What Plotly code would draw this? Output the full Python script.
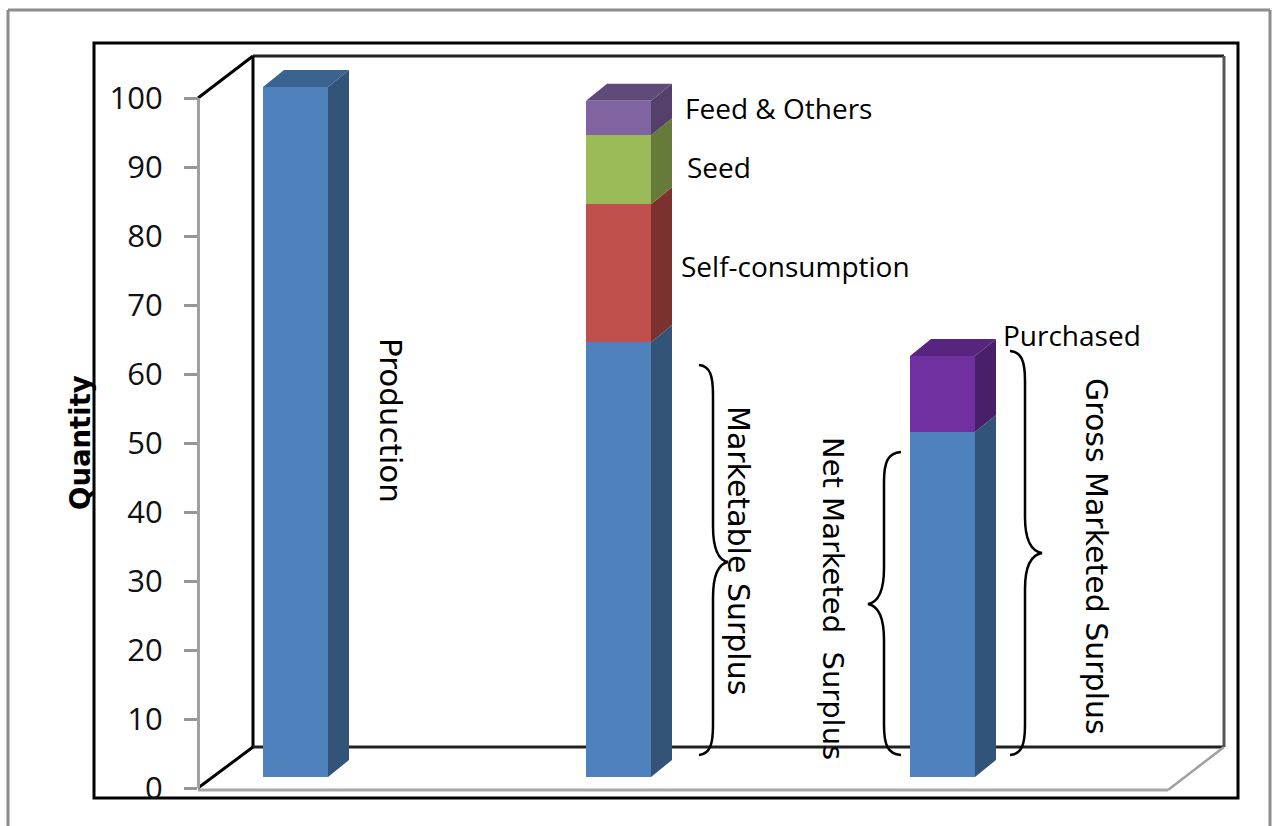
import plotly.graph_objects as go

# ---- data ----
bar_names = ["Production", "Utilisation", "Marketed"]
base_values = [100, 63, 50]
self_consumption = [0, 20, 0]
seed = [0, 10, 0]
feed_others = [0, 5, 0]
purchased = [0, 0, 11]
y_ticks = [0, 10, 20, 30, 40, 50, 60, 70, 80, 90, 100]

# ---- style / layout constants (pixels in the 1273x826 page) ----
W, H = 1273, 826
bar_centres = [295.5, 618.5, 942.5]
BAR_W = 65
DX, DY_PX = 21, 17
PX_PER_UNIT = 6.9
FONT = "Open Sans"
ROT_FONT = "DejaVu Sans"
series = [
    (base_values, "#4F81BD", "#325479", "#3B6390"),
    (self_consumption, "#C0504D", "#7D312F", "#8E3A38"),
    (seed, "#9BBB59", "#667B3A", "#748C42"),
    (feed_others, "#8064A2", "#54406B", "#5F4A79"),
    (purchased, "#7030A0", "#4A1F6A", "#572580"),
]

AX0, AX100 = 788, 98      # value axis pixels
BAR0, BARTOP = 777, 60    # bar axis pixels
DY = DY_PX / PX_PER_UNIT


def py(p):
    return 1 - p / H


fig = go.Figure()

# keeps the value axis alive; carries the tick values themselves
fig.add_trace(go.Scatter(x=[198] * len(y_ticks), y=y_ticks, mode="markers", marker=dict(opacity=0, size=1),
                         xaxis="x", yaxis="y", showlegend=False, hoverinfo="skip"))

# front faces, through the library's stacked bars
for vals, front, side, top in series:
    fig.add_trace(go.Bar(x=bar_centres, y=vals, width=BAR_W, marker=dict(color=front, line=dict(width=0)),
                         yaxis="y2", xaxis="x", showlegend=False, hoverinfo="skip"))

# depth faces, derived from the same values
for i, xc in enumerate(bar_centres):
    cum = 0
    right = xc + BAR_W / 2
    left = xc - BAR_W / 2
    last_top = None
    for vals, front, side, top in series:
        v = vals[i]
        if v == 0:
            continue
        fig.add_trace(go.Scatter(
            x=[right, right + DX, right + DX, right, right],
            y=[cum, cum + DY, cum + v + DY, cum + v, cum],
            mode="lines", fill="toself", fillcolor=side, line=dict(width=0),
            yaxis="y2", xaxis="x", showlegend=False, hoverinfo="skip"))
        cum += v
        last_top = top
    fig.add_trace(go.Scatter(
        x=[left, right, right + DX, left + DX, left],
        y=[cum, cum, cum + DY, cum + DY, cum],
        mode="lines", fill="toself", fillcolor=last_top, line=dict(width=0),
        yaxis="y2", xaxis="x", showlegend=False, hoverinfo="skip"))

shapes = []


def line(x0, y0, x1, y1, color="#000000", width=3, layer="below"):
    shapes.append(dict(type="line", xref="x", yref="paper", x0=x0, x1=x1, y0=py(y0), y1=py(y1),
                       line=dict(color=color, width=width), layer=layer))


# outer grey frame (open at the bottom)
line(8, 10, 8, 826, "#8c8c8c", 3)
line(8, 10, 1270, 10, "#8c8c8c", 3)
line(1270, 10, 1270, 826, "#8c8c8c", 3)
# black chart frame
shapes.append(dict(type="rect", xref="x", yref="paper", x0=94, x1=1238, y0=py(798), y1=py(43),
                   line=dict(color="#000000", width=3), fillcolor="rgba(0,0,0,0)", layer="below"))
# back wall
line(253, 56, 1224, 56, "#222222", 3)
line(253, 56, 253, 747, "#000000", 3)
line(1224, 56, 1224, 747, "#555555", 3)
line(253, 747, 1224, 747, "#222222", 3)
line(198, 98, 253, 56, "#000000", 3)
line(198, 788, 253, 747, "#000000", 3)
# floor
line(198, 790, 1168, 790, "#a6a6a6", 3)
line(1168, 790, 1224, 747, "#a0a0a0", 2.5)


def brace(x_end, x_spine, x_tip, y_top, y_bot, y_tip):
    s = x_spine - x_end
    t = x_tip - x_spine
    r = 18
    r2 = 14
    path = (
        f"M {x_end},{py(y_top)} "
        f"C {x_end + s * 0.8},{py(y_top + 1)} {x_spine},{py(y_top + r * 0.6)} {x_spine},{py(y_top + r + 12)} "
        f"L {x_spine},{py(y_tip - r2 - 22)} "
        f"C {x_spine},{py(y_tip - r2)} {x_spine + t * 0.3},{py(y_tip - 2)} {x_tip},{py(y_tip)} "
        f"C {x_spine + t * 0.3},{py(y_tip + 2)} {x_spine},{py(y_tip + r2)} {x_spine},{py(y_tip + r2 + 22)} "
        f"L {x_spine},{py(y_bot - r - 12)} "
        f"C {x_spine},{py(y_bot - r * 0.6)} {x_end + s * 0.8},{py(y_bot - 1)} {x_end},{py(y_bot)}"
    )
    shapes.append(dict(type="path", xref="x", yref="paper", path=path,
                       line=dict(color="#000000", width=2.5), layer="above"))


brace(699, 713, 728, 365, 755, 562)
brace(901, 884, 868, 452, 755, 604)
brace(1010, 1025, 1042, 351, 755, 553)

annotations = []


def label(text, x, y, angle=0, size=28, anchor="left", bold=False, family=FONT):
    annotations.append(dict(text=f"<b>{text}</b>" if bold else text, x=x, y=py(y), xref="x", yref="paper",
                            xanchor=anchor, yanchor="middle", showarrow=False, textangle=angle,
                            font=dict(family=family, size=size, color="#000000")))


label("Quantity", 80, 443, 270, 27.5, "center", True, ROT_FONT)
label("Production", 391, 420, 90, 31, "center", family=ROT_FONT)
label("Marketable Surplus", 739, 550, 90, 30, "center", family=ROT_FONT)
label("Net Marketed  Surplus", 833, 598, 90, 29, "center", family=ROT_FONT)
label("Gross Marketed Surplus", 1097, 556, 90, 30, "center", family=ROT_FONT)
label("Feed &amp; Others", 683, 108)
label("Seed", 685, 167)
label("Self-consumption", 679, 266)
label("Purchased", 1001, 335)

fig.update_layout(
    width=W, height=H, margin=dict(l=0, r=0, t=0, b=0, autoexpand=False), autosize=False,
    paper_bgcolor="#ffffff", plot_bgcolor="rgba(0,0,0,0)",
    barmode="stack", showlegend=False, shapes=shapes, annotations=annotations,
    font=dict(family=FONT, color="#000000"),
    xaxis=dict(range=[0, W], visible=False, fixedrange=True, domain=[0, 1], automargin=False),
    yaxis=dict(domain=[py(AX0), py(AX100)], range=[0, 100], tickvals=y_ticks, ticks="outside", ticklen=13,
               tickwidth=3, tickcolor="#969696", showline=True, linecolor="#a0a0a0", linewidth=3,
               anchor="free", position=198 / W, showgrid=False, zeroline=False, automargin=False,
               tickfont=dict(family=FONT, size=31, color="#111111"), ticklabelstandoff=15, fixedrange=True),
    yaxis2=dict(domain=[py(BAR0), py(BARTOP)], range=[0, (BAR0 - BARTOP) / PX_PER_UNIT], anchor="x",
                visible=False, fixedrange=True, automargin=False),
)

fig.write_html("out.html", post_script="document.body.style.margin='0';", config={"displayModeBar": False})
